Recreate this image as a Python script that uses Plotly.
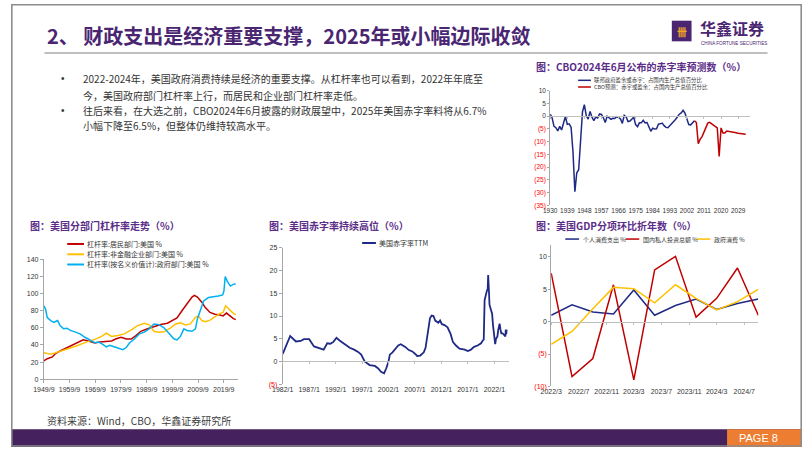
import plotly.graph_objects as go

W, H = 802, 451


def px(x):
    return x / W


def py(y):
    return 1 - y / H


# ---------------- DATA ----------------
# Chart 1: US sector leverage ratios (%)
lev_hh_dates = ["1949-09", "1951-01", "1953-01", "1954-03", "1956-01", "1958-09", "1961-04", "1963-03",
                "1965-01", "1967-01", "1969-07", "1971-06", "1974-01", "1976-01", "1977-11", "1979-10",
                "1981-10", "1983-09", "1985-07", "1987-06", "1990-01", "1992-07", "1995-03", "1997-10",
                "1999-09", "2001-07", "2003-06", "2005-05", "2007-05", "2008-04", "2009-06", "2011-03",
                "2012-06", "2014-05", "2016-04", "2018-04", "2019-06", "2020-10", "2022-01", "2023-05",
                "2024-05"]
lev_hh = [21.5, 24, 26, 30, 33, 37, 41, 44, 46, 44.6, 42.3, 43.5, 44, 44.6, 47.3, 49, 47, 47, 51, 56,
          59, 61.5, 64, 65.4, 68.5, 71.5, 80, 87.7, 96, 98, 96, 90, 84, 78, 76, 75, 74, 77.3, 74, 71, 69.6]

lev_corp_dates = ["1949-09", "1952-04", "1954-03", "1956-10", "1959-05", "1962-01", "1964-06", "1967-01",
                  "1969-07", "1972-03", "1974-01", "1976-01", "1978-07", "1981-01", "1983-09", "1986-03",
                  "1988-10", "1990-09", "1992-07", "1994-07", "1996-06", "1999-01", "2001-01", "2002-11",
                  "2004-10", "2006-09", "2008-09", "2009-11", "2011-03", "2012-06", "2014-05", "2016-04",
                  "2018-04", "2019-06", "2020-06", "2021-06", "2022-09", "2024-05"]
lev_corp = [30.8, 29.2, 30.8, 33, 35.8, 38.5, 41.5, 44.2, 46.5, 50, 53.8, 50, 51, 53, 57.7, 62.7, 65.4,
            63.5, 56, 55, 55.4, 60, 64.6, 65.8, 63.5, 64.6, 72.3, 74, 68.5, 67.3, 69, 73, 77, 78, 85.8,
            83, 79, 75]

lev_gov_dates = ["1949-09", "1950-05", "1951-01", "1952-05", "1953-08", "1955-01", "1956-01", "1957-05",
                 "1958-09", "1960-01", "1962-01", "1963-10", "1965-09", "1967-08", "1969-07", "1970-11",
                 "1972-03", "1974-01", "1975-05", "1977-04", "1979-03", "1980-06", "1981-10", "1983-01",
                 "1985-01", "1986-11", "1988-10", "1990-09", "1992-07", "1994-07", "1996-06", "1998-05",
                 "2000-04", "2001-07", "2002-11", "2004-03", "2005-05", "2007-05", "2008-09", "2009-06",
                 "2010-08", "2011-11", "2013-10", "2015-09", "2017-08", "2019-04", "2019-10", "2020-04",
                 "2021-01", "2022-04", "2023-05", "2024-05"]
lev_gov = [85.8, 82, 72, 68.5, 66.5, 68.5, 62.7, 59, 59.6, 57, 55, 53, 49, 45.4, 42.7, 43.5, 41.5, 37.7,
           39.6, 37.7, 35.8, 34.6, 37, 42.3, 47.3, 53, 55, 58.8, 64.6, 63.8, 60, 53, 47.3, 46, 50, 58.8,
           57, 56, 58.8, 70.4, 80.8, 91.5, 95.4, 96, 97.3, 98.5, 103, 120, 114.6, 108.8, 110.8, 111.5]

lev_tick_dates = ["1949-09-01", "1959-09-01", "1969-09-01", "1979-09-01", "1989-09-01", "1999-09-01",
                  "2009-09-01", "2019-09-01"]
lev_tick_text = ["1949/9", "1959/9", "1969/9", "1979/9", "1989/9", "1999/9", "2009/9", "2019/9"]

# Chart 2: US deficit ratio TTM (%)
def_dates = ["1982-01", "1983-06", "1984-07", "1985-06", "1986-01", "1987-01", "1987-12", "1988-12",
             "1989-10", "1990-06", "1991-01", "1991-08", "1992-03", "1992-10", "1993-10", "1994-09",
             "1995-07", "1996-04", "1996-11", "1997-07", "1998-06", "1999-06", "2000-01", "2000-08",
             "2001-03", "2001-08", "2002-01", "2002-04", "2002-10", "2003-06", "2003-11", "2004-05",
             "2004-11", "2005-03", "2005-11", "2006-07", "2007-01", "2007-06", "2008-01", "2008-09",
             "2009-01", "2009-04", "2009-08", "2009-11", "2010-03", "2010-07", "2010-11", "2011-06",
             "2011-10", "2012-02", "2012-08", "2013-03", "2013-10", "2014-03", "2014-10", "2015-06",
             "2016-06", "2017-01", "2017-08", "2018-03", "2018-11", "2019-07", "2019-10", "2020-01",
             "2020-03", "2020-05", "2020-08", "2020-10", "2020-11", "2021-01", "2021-02", "2021-05",
             "2021-08", "2021-10", "2022-01", "2022-03", "2022-05", "2022-08", "2022-10", "2023-01",
             "2023-03", "2023-05", "2023-08", "2023-10", "2023-11", "2024-02", "2024-03", "2024-04",
             "2024-05"]
def_vals = [1.65, 5.6, 4.4, 4.5, 4.9, 4.9, 3.3, 3.0, 2.6, 4.0, 3.9, 4.3, 5.2, 4.6, 3.8, 3.0, 2.6, 2.1,
            1.5, 0.0, -0.8, -1.0, -1.5, -2.3, -2.6, -1.5, 0.0, 1.5, 2.0, 2.8, 3.5, 3.8, 3.5, 3.2, 2.5,
            2.2, 1.7, 1.2, 1.3, 2.0, 3.0, 5.0, 8.0, 9.5, 10.1, 10.0, 9.0, 8.5, 9.0, 8.2, 8.0, 7.5, 6.0,
            4.3, 3.5, 2.8, 2.6, 2.3, 2.6, 3.2, 3.5, 4.0, 4.5, 4.8, 13.5, 14.5, 15.5, 16.0, 19.0, 15.0,
            12.5, 11.5, 10.5, 8.0, 5.0, 3.8, 5.0, 5.5, 7.0, 8.3, 7.0, 6.2, 6.2, 6.0, 5.8, 5.5, 7.0, 6.0,
            7.0]
def_tick_dates = ["1982-01-01", "1987-01-01", "1992-01-01", "1997-01-01", "2002-01-01", "2007-01-01",
                  "2012-01-01", "2017-01-01", "2022-01-01"]
def_tick_text = ["1982/1", "1987/1", "1992/1", "1997/1", "2002/1", "2007/1", "2012/1", "2017/1", "2022/1"]
def_ytick_vals = [-5, 0, 5, 10, 15, 20, 25]
def_ytick_text = ["(5)", "0", "5", "10", "15", "20", "25"]

# Chart 3: US GDP components, annualized QoQ (%)
gdp_dates = ["2022-03-01", "2022-06-01", "2022-09-01", "2022-12-01", "2023-03-01", "2023-06-01",
             "2023-09-01", "2023-12-01", "2024-03-01", "2024-06-01", "2024-09-01"]
gdp_pce = [1.0, 2.6, 1.5, 1.2, 4.9, 1.0, 2.5, 3.5, 1.9, 2.8, 3.5]
gdp_inv = [7.5, -8.5, -5.7, 5.7, -9.0, 8.0, 10.1, 0.7, 3.6, 8.3, 1.0]
gdp_gov = [-3.5, -1.5, 2.0, 5.3, 5.1, 2.9, 5.7, 3.6, 1.8, 3.1, 5.0]
gdp_tick_dates = ["2022-03-01", "2022-07-01", "2022-11-01", "2023-03-01", "2023-07-01", "2023-11-01",
                  "2024-03-01", "2024-07-01"]
gdp_tick_text = ["2022/3", "2022/7", "2022/11", "2023/3", "2023/7", "2023/11", "2024/3", "2024/7"]
gdp_ytick_vals = [-10, -5, 0, 5, 10]
gdp_ytick_text = ["(10)", "(5)", "0", "5", "10"]

# Chart 4: CBO June 2024 deficit projections (% of GDP)
cbo_hist_years = list(range(1930, 2007))
cbo_hist = [0.8, -0.6, -4.0, -4.5, -5.8, -4.0, -5.4, -2.8, -0.1, -3.2, -3.0, -4.3, -13.9, -29.6, -22.2,
            -21.0, -7.0, 1.7, 4.5, 0.2, -1.1, 1.9, -0.4, -1.7, -0.3, -0.7, 0.9, 0.7, -0.6, -2.5, 0.0,
            -0.6, -1.2, -0.8, -0.9, -0.2, -0.5, -1.0, -2.8, 0.3, -0.3, -2.1, -1.9, -1.1, -0.4, -3.3,
            -4.1, -2.6, -2.6, -1.6, -2.6, -2.5, -3.9, -5.9, -4.7, -5.0, -4.9, -3.1, -3.0, -2.7, -3.7,
            -4.4, -4.5, -3.8, -2.8, -2.2, -1.3, -0.3, 0.8, 1.3, 2.3, 1.2, -1.5, -3.3, -3.4, -2.5, -1.8]
cbo_proj_years = list(range(2006, 2034))
cbo_proj = [-1.8, -2.5, -10.8, -9.0, -8.0, -6.0, -4.0, -2.7, -2.4, -3.0, -3.5, -4.0, -4.6, -15.8, -4.6,
            -6.6, -6.6, -5.8, -5.9, -6.0, -6.2, -6.3, -6.5, -6.7, -6.8, -7.0, -7.2, -7.1]
cbo_tick_years = [1930, 1939, 1948, 1957, 1966, 1975, 1984, 1993, 2002, 2011, 2020, 2029]
cbo_ytick_vals = [-35, -30, -25, -20, -15, -10, -5, 0, 5, 10]
cbo_ytick_text = ["(35)", "(30)", "(25)", "(20)", "(15)", "(10)", "(5)", "0", "5", "10"]

# ---------------- STYLE ----------------
PURPLE = "#4A2672"
TPURPLE = "#5B2D88"
NAVY = "#1F2A86"
DRED = "#C00000"
YEL = "#FFC000"
LBLUE = "#00B0F0"
AXC = "#A6A6A6"
ZC = "#BFBFBF"
TXT = "#333333"
NUMF = "Liberation Sans, Noto Sans CJK SC, sans-serif"
CJKF = "Noto Sans CJK SC, Liberation Sans, sans-serif"


def red_neg(texts):
    return [f"<span style='color:#FF0000'>{t}</span>" if t.startswith("(") else t for t in texts]


fig = go.Figure()


def line(x, y, color, xa, ya, width=1.5):
    fig.add_trace(go.Scatter(x=x, y=y, mode="lines", line=dict(color=color, width=width),
                             xaxis=xa, yaxis=ya, showlegend=False, hoverinfo="skip"))


# Chart 1
line(lev_hh_dates, lev_hh, DRED, "x", "y")
line(lev_corp_dates, lev_corp, YEL, "x", "y")
line(lev_gov_dates, lev_gov, LBLUE, "x", "y")
# Chart 2
line(def_dates, def_vals, NAVY, "x2", "y2", 1.8)
# Chart 3
line(gdp_dates, gdp_pce, NAVY, "x3", "y3")
line(gdp_dates, gdp_inv, DRED, "x3", "y3")
line(gdp_dates, gdp_gov, YEL, "x3", "y3")
# Chart 4
line(cbo_hist_years, cbo_hist, NAVY, "x4", "y4")
line(cbo_proj_years, cbo_proj, DRED, "x4", "y4")
# empty traces to host zero-line tick axes
for xa, ya in (("x6", "y2"), ("x7", "y3"), ("x8", "y4")):
    fig.add_trace(go.Scatter(x=[], y=[], xaxis=xa, yaxis=ya, showlegend=False, hoverinfo="skip"))

tickfont = dict(family=NUMF, size=7, color=TXT)

# domains
d1x, d1y = [px(33.3), px(230)], [py(382), py(260)]
d2x, d2y = [px(275.5), px(505)], [py(387), py(248.3)]
d3x, d3y = [px(547.7), px(757.7)], [py(389.3), py(245)]
d4x, d4y = [px(546.7), px(748.8)], [py(205), py(88.3)]
r2y, r3y, r4y = [-5, 25], [-10, 11.9], [-35, 10]


def zero_pos(dom, rng):
    return dom[0] + (0 - rng[0]) / (rng[1] - rng[0]) * (dom[1] - dom[0])


fig.update_layout(
    width=W, height=H, margin=dict(l=0, r=0, t=0, b=0), autosize=False,
    paper_bgcolor="white", plot_bgcolor="white",
    xaxis=dict(domain=d1x, anchor="y", type="date", range=["1949-09-01", "2025-03-01"],
               tickmode="array", tickvals=lev_tick_dates, ticktext=lev_tick_text,
               showline=True, linecolor=AXC, ticks="outside", ticklen=3, tickcolor=AXC,
               showgrid=False, zeroline=False, tickfont=tickfont),
    yaxis=dict(domain=d1y, anchor="x", range=[0, 140], dtick=20, showline=True, linecolor=AXC,
               ticks="outside", ticklen=3, tickcolor=AXC, showgrid=False, zeroline=False,
               tickfont=tickfont),
    xaxis2=dict(domain=d2x, anchor="y2", type="date", range=["1982-01-01", "2024-10-15"],
                tickmode="array", tickvals=def_tick_dates, ticktext=def_tick_text,
                showline=False, ticks="", showgrid=False, zeroline=False, tickfont=tickfont),
    yaxis2=dict(domain=d2y, anchor="x2", range=r2y, tickmode="array", tickvals=def_ytick_vals,
                ticktext=red_neg(def_ytick_text), showline=True, linecolor=AXC, ticks="outside",
                ticklen=3, tickcolor=AXC, showgrid=False, zeroline=False, tickfont=tickfont),
    xaxis3=dict(domain=d3x, anchor="y3", type="date", range=["2022-03-01", "2024-09-01"],
                tickmode="array", tickvals=gdp_tick_dates, ticktext=gdp_tick_text,
                showline=False, ticks="", showgrid=False, zeroline=False, tickfont=tickfont),
    yaxis3=dict(domain=d3y, anchor="x3", range=r3y, tickmode="array", tickvals=gdp_ytick_vals,
                ticktext=red_neg(gdp_ytick_text), showline=True, linecolor=AXC, ticks="outside",
                ticklen=2, tickcolor=AXC, showgrid=False, zeroline=False, tickfont=tickfont),
    xaxis4=dict(domain=d4x, anchor="y4", range=[1930, 2035], tickmode="array",
                tickvals=cbo_tick_years, ticktext=[str(v) for v in cbo_tick_years],
                showline=False, ticks="", showgrid=False, zeroline=False,
                tickfont=dict(family=NUMF, size=6.5, color=TXT)),
    yaxis4=dict(domain=d4y, anchor="x4", range=r4y, tickmode="array", tickvals=cbo_ytick_vals,
                ticktext=red_neg(cbo_ytick_text), showline=True, linecolor=AXC, ticks="outside",
                ticklen=2, tickcolor=AXC, showgrid=False, zeroline=False,
                tickfont=dict(family=NUMF, size=6.5, color=TXT)),
    xaxis6=dict(overlaying="x2", anchor="free", position=zero_pos(d2y, r2y), type="date",
                range=["1982-01-01", "2024-10-15"], tickmode="array", tickvals=def_tick_dates,
                showticklabels=False, showline=True, linecolor=ZC, ticks="outside", ticklen=2,
                tickcolor=ZC, showgrid=False, zeroline=False),
    xaxis7=dict(overlaying="x3", anchor="free", position=zero_pos(d3y, r3y), type="date",
                range=["2022-03-01", "2024-09-01"], tickmode="array", tickvals=gdp_tick_dates,
                showticklabels=False, showline=True, linecolor=ZC, ticks="outside", ticklen=2,
                tickcolor=ZC, showgrid=False, zeroline=False),
    xaxis8=dict(overlaying="x4", anchor="free", position=zero_pos(d4y, r4y), range=[1930, 2035],
                tickmode="array", tickvals=cbo_tick_years, showticklabels=False, showline=True,
                linecolor=ZC, ticks="outside", ticklen=2, tickcolor=ZC, showgrid=False,
                zeroline=False),
)

shapes = []
ann = []


def rect(x0, y0, x1, y1, fill, line_color=None, lw=0):
    shapes.append(dict(type="rect", xref="paper", yref="paper", x0=px(x0), x1=px(x1), y0=py(y1),
                       y1=py(y0), fillcolor=fill, line=dict(color=line_color or fill, width=lw),
                       layer="below"))


def hline(x0, x1, y, color, w):
    shapes.append(dict(type="line", xref="paper", yref="paper", x0=px(x0), x1=px(x1), y0=py(y),
                       y1=py(y), line=dict(color=color, width=w)))


def text(x, y, s, size, color=TXT, family=CJKF, xanchor="left"):
    ann.append(dict(xref="paper", yref="paper", x=px(x), y=py(y), text=s, showarrow=False,
                    xanchor=xanchor, yanchor="middle", font=dict(family=family, size=size, color=color)))


# frame
shapes.append(dict(type="rect", xref="paper", yref="paper", x0=px(0.8), x1=px(801.2), y0=py(450),
                   y1=py(0.8), line=dict(color="#8C8C8C", width=1.6), fillcolor="rgba(0,0,0,0)"))
# header
text(34, 32, "<b>2、 财政支出是经济重要支撑，2025年或小幅边际收敛</b>", 20, PURPLE)
hline(34, 767, 50, "#BFBFBF", 2)
rect(670, 17, 690, 38, PURPLE)
text(680, 27.5, "<b>卌</b>", 10, "#F5A623", xanchor="center")
text(697, 24.5, "<b>华鑫证券</b>", 16, PURPLE)
text(698, 40.5, "CHINA FORTUNE SECURITIES", 4.6, PURPLE, NUMF)

# bullets
text(53, 76, "•", 10, TXT, NUMF, "center")
text(53, 108.5, "•", 10, TXT, NUMF, "center")
text(70.5, 76, "2022-2024年，美国政府消费持续是经济的重要支撑。从杠杆率也可以看到，2022年年底至", 10, TXT)
text(70.5, 93, "今，美国政府部门杠杆率上行，而居民和企业部门杠杆率走低。", 10, TXT)
text(70.5, 108.5, "往后来看，在大选之前，CBO2024年6月披露的财政展望中，2025年美国赤字率料将从6.7%", 10, TXT)
text(70.5, 124, "小幅下降至6.5%，但整体仍维持较高水平。", 10, TXT)

# chart titles
text(17, 225, "<b>图：美国分部门杠杆率走势（%）</b>", 10, TPURPLE)
text(260, 225, "<b>图：美国赤字率持续高位（%）</b>", 10, TPURPLE)
text(530, 225, "<b>图：美国GDP分项环比折年数（%）</b>", 10, TPURPLE)
text(530, 63.5, "<b>图：CBO2024年6月公布的赤字率预测数（%）</b>", 10, TPURPLE)

# legends
for yy, col, lab in ((244.3, DRED, "杠杆率:居民部门:美国 %"),
                     (254.8, YEL, "杠杆率:非金融企业部门:美国 %"),
                     (265.2, LBLUE, "杠杆率(按名义价值计):政府部门:美国 %")):
    hline(57, 74, yy, col, 2)
    text(75.5, yy, lab, 7, TXT)
hline(356, 370, 243.3, NAVY, 2)
text(371, 243.3, "美国赤字率TTM", 7, TXT)
hline(575, 588, 77.7, NAVY, 1.5)
text(589, 77.7, "联邦政府盈余或赤字：占国内生产总值百分比", 5.4, TXT)
hline(575, 588, 84.5, DRED, 1.5)
text(589, 84.5, "CBO预测：赤字或盈余：占国内生产总值百分比", 5.4, TXT)
for x0, col, lab in ((562, NAVY, "个人消费支出 %"), (623, DRED, "国内私人投资总额 %"),
                     (695, YEL, "政府消费 %")):
    hline(x0, x0 + 14, 239.3, col, 1.5)
    text(x0 + 15.5, 239.3, lab, 6, TXT)

# source & footer
text(34, 424, "资料来源：Wind，CBO，华鑫证券研究所", 10, "#404040")
rect(0, 433, 802, 451, "#45215E")
rect(726, 433, 802, 451, "#ED7D31")
text(736, 442, "PAGE 8", 11, "white", NUMF)

fig.update_layout(shapes=shapes, annotations=ann)
fig.write_html("out.html",
               config={"displayModeBar": False, "staticPlot": True},
               post_script="document.body.style.margin='0';document.body.style.padding='0';"
                           "document.body.style.overflow='hidden';")
